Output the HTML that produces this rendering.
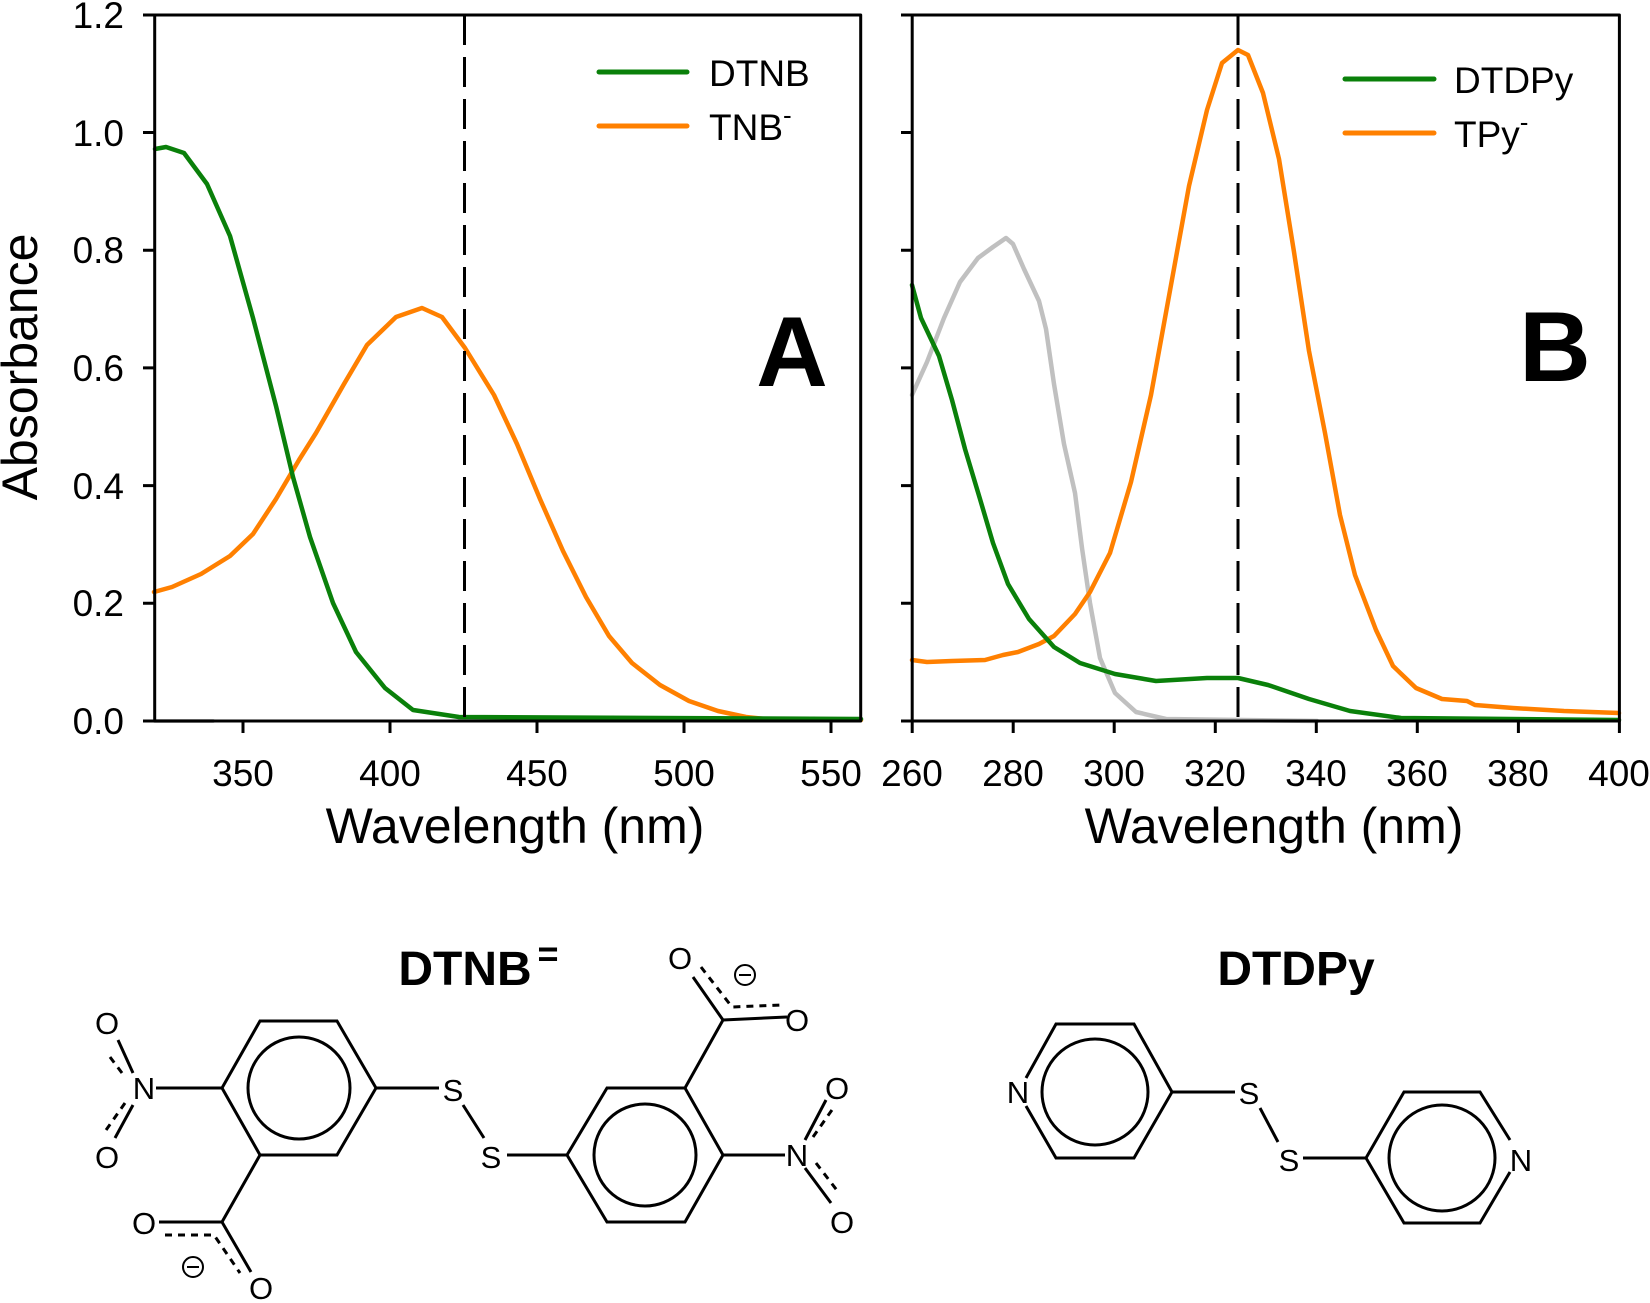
<!DOCTYPE html>
<html><head><meta charset="utf-8"><style>
html,body{margin:0;padding:0;background:#fff}
svg{display:block}
text{font-family:"Liberation Sans",Arial,sans-serif;fill:#000}
</style></head><body>
<svg width="1650" height="1303" viewBox="0 0 1650 1303" xmlns="http://www.w3.org/2000/svg">
<g fill="none" stroke-linejoin="round" stroke-linecap="round">
<polyline stroke="#c0c0c0" stroke-width="4" points="155,721 213,721"/>
<polyline stroke="#ff8000" stroke-width="4.5" points="154,592 172,587 201,574 230,556 253,534 276,499 299,460 316,433 344,384 367,345 396,317 422,308 442,317 465,348 494,395 517,444 540,499 563,551 586,597 609,636 632,663 660,685 689,701 718,711 746,717 775,720 861,720"/>
<polyline stroke="#0a800a" stroke-width="4.5" points="155,149 166,147 184,153 207,184 230,236 253,318 276,406 293,477 310,537 333,603 356,652 385,688 413,710 459,717 861,719"/>
<line x1="464.5" y1="15" x2="464.5" y2="721" stroke="#000" stroke-width="3" stroke-dasharray="30,12" stroke-linecap="butt"/>
<polyline stroke="#c0c0c0" stroke-width="4.5" points="912,395 927,362 944,318 960,282 978,258 993,247 1006,238 1013,244 1024,269 1039,301 1046,329 1054,384 1064,444 1075,493 1082,548 1090,603 1100,658 1115,693 1136,712 1166,719 1317,721"/>
<polyline stroke="#ff8000" stroke-width="4.5" points="912,660 927,662 952,661 985,660 1003,655 1018,652 1039,644 1054,636 1075,614 1090,592 1110,553 1131,482 1151,395 1171,285 1189,186 1207,110 1222,63 1238,50 1248,55 1263,93 1279,159 1294,252 1309,351 1325,433 1340,515 1355,575 1376,630 1393,666 1416,688 1442,699 1467,701 1475,705 1513,708 1564,711 1619,713"/>
<polyline stroke="#0a800a" stroke-width="4.5" points="912,285 921,318 939,356 952,400 965,449 980,499 993,543 1008,584 1029,619 1054,647 1080,663 1115,674 1156,681 1207,678 1238,678 1268,685 1309,699 1350,711 1401,718 1619,720"/>
<line x1="1238" y1="15" x2="1238" y2="721" stroke="#000" stroke-width="3" stroke-dasharray="30,12" stroke-linecap="butt"/>
<g stroke="#000" stroke-width="3" stroke-linecap="butt">
<rect x="154.7" y="15" width="706" height="706"/>
<rect x="912.2" y="15" width="707.2" height="706"/>
<path d="M143,721H155M143,603.3H155M143,485.6H155M143,367.9H155M143,250.2H155M143,132.5H155M143,15H155"/>
<path d="M901,721H913M901,603.3H913M901,485.6H913M901,367.9H913M901,250.2H913M901,132.5H913M901,15H913"/>
<path d="M243,721V733M390,721V733M537,721V733M684,721V733M831,721V733"/>
<path d="M912.2,721V733M1013.2,721V733M1114.2,721V733M1215.3,721V733M1316.3,721V733M1417.3,721V733M1518.4,721V733M1619.4,721V733"/>
</g>
<line x1="599" y1="72" x2="687" y2="72" stroke="#0a800a" stroke-width="5"/>
<line x1="599" y1="126" x2="687" y2="126" stroke="#ff8000" stroke-width="5"/>
<line x1="1345" y1="79" x2="1434" y2="79" stroke="#0a800a" stroke-width="5"/>
<line x1="1345" y1="133" x2="1434" y2="133" stroke="#ff8000" stroke-width="5"/>
</g>
<g font-size="37">
<text x="709" y="86">DTNB</text>
<text x="709" y="140">TNB<tspan dy="-16" font-size="26">-</tspan></text>
<text x="1454" y="93">DTDPy</text>
<text x="1454" y="147">TPy<tspan dy="-16" font-size="26">-</tspan></text>
</g>
<g font-size="37" text-anchor="end">
<text x="124" y="734">0.0</text><text x="124" y="616">0.2</text><text x="124" y="499">0.4</text><text x="124" y="381">0.6</text><text x="124" y="263">0.8</text><text x="124" y="146">1.0</text><text x="124" y="28">1.2</text>
</g>
<g font-size="37" text-anchor="middle">
<text x="243" y="786">350</text><text x="390" y="786">400</text><text x="537" y="786">450</text><text x="684" y="786">500</text><text x="831" y="786">550</text>
<text x="912" y="786">260</text><text x="1013" y="786">280</text><text x="1114" y="786">300</text><text x="1215" y="786">320</text><text x="1316" y="786">340</text><text x="1417" y="786">360</text><text x="1518" y="786">380</text><text x="1619" y="786">400</text>
</g>
<g font-size="50" text-anchor="middle">
<text x="515" y="843">Wavelength (nm)</text>
<text x="1274" y="843">Wavelength (nm)</text>
<text transform="translate(37,367) rotate(-90)">Absorbance</text>
</g>
<text x="792" y="386" font-size="99" font-weight="bold" text-anchor="middle">A</text>
<text x="1555" y="381" font-size="99" font-weight="bold" text-anchor="middle">B</text>
<g fill="none" stroke="#000" stroke-width="3">
<polygon points="260,1021 337,1021 376,1088 337,1155 260,1155 222,1088"/>
<circle cx="299" cy="1088" r="51"/>
<polygon points="567,1155 607,1088 685,1088 723,1155 685,1222 607,1222"/>
<circle cx="645" cy="1155" r="51"/>
<path d="M156,1088H222M376,1088H439M463,1105L484,1138M507,1155H567M723,1155H785"/>
<path d="M118,1040L133,1073M133,1105L115,1138M805,1140L826,1100M805,1168L831,1203"/>
<path d="M260,1155L222,1222M159,1222H222M222,1222L251,1272"/>
<path d="M685,1088L723,1020M723,1020L787,1017M723,1020L693,977"/>
<g stroke-dasharray="7,6">
<path d="M110,1057L125,1077M125,1103L104,1133M813,1137L834,1107M816,1163L839,1193"/>
<path d="M165,1235H214L240,1273M701,967L732,1007L782,1005"/>
</g>
<path d="M1026,1078L1056,1024H1134L1172,1092L1134,1158H1056L1026,1106"/>
<circle cx="1095" cy="1092" r="53"/>
<path d="M1172,1092H1235M1260,1108L1278,1142M1303,1158H1366"/>
<path d="M1510,1140L1480,1092H1404L1366,1158L1404,1223H1480L1510,1172"/>
<circle cx="1442" cy="1158" r="53"/>
<circle cx="193" cy="1267" r="10" stroke-width="2"/>
<circle cx="745" cy="975" r="10" stroke-width="2"/>
<path d="M187,1267H199M739,975H751" stroke-width="2"/>
</g>
<g font-size="31" text-anchor="middle">
<text x="144" y="1099">N</text>
<text x="107" y="1034">O</text><text x="107" y="1168">O</text>
<text x="144" y="1234">O</text><text x="261" y="1299">O</text>
<text x="453" y="1101">S</text><text x="491" y="1168">S</text>
<text x="680" y="969">O</text><text x="797" y="1031">O</text>
<text x="797" y="1166">N</text>
<text x="837" y="1099">O</text><text x="842" y="1233">O</text>
<text x="1018" y="1103">N</text>
<text x="1249" y="1104">S</text><text x="1289" y="1171">S</text>
<text x="1521" y="1171">N</text>
</g>
<text x="465" y="985" font-size="48" font-weight="bold" text-anchor="middle">DTNB</text>
<text x="548" y="966" font-size="36" font-weight="bold" text-anchor="middle">=</text>
<text x="1296" y="985" font-size="48" font-weight="bold" text-anchor="middle">DTDPy</text>
</svg>
</body></html>
